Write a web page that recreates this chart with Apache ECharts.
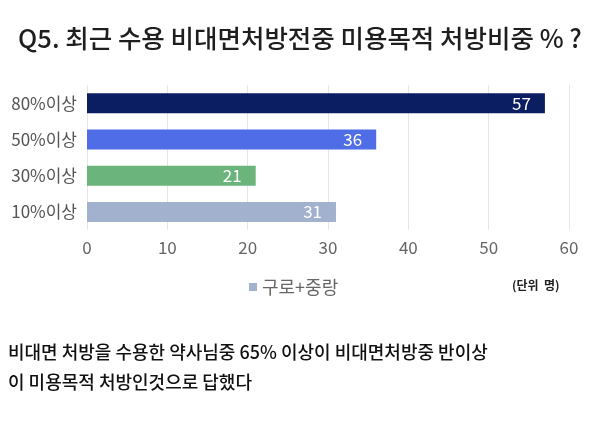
<!DOCTYPE html>
<html>
<head>
<meta charset="utf-8">
<script src="https://cdn.jsdelivr.net/npm/echarts@6/dist/echarts.min.js"></script>
<style>
  html, body { margin: 0; padding: 0; background: #fff; }
  #chart { width: 600px; height: 425px; }
</style>
</head>
<body>
<div id="chart"></div>
<script>
// data
const categories = ['80%이상', '50%이상', '30%이상', '10%이상'];
const values = [57, 36, 21, 31];
const barColors = ['#0b1e62', '#4f6de6', '#6bb57c', '#a2b1cd'];
const seriesName = '구로+중랑';
const xTicks = [0, 10, 20, 30, 40, 50, 60];

const font = '"Noto Sans CJK KR", "Noto Sans", sans-serif';

const chart = echarts.init(document.getElementById('chart'));

const option = {
    animation: false,
    textStyle: { fontFamily: font },
    title: {
        text: 'Q5. 최근 수용 비대면처방전중 미용목적 처방비중 % ?',
        left: 'center',
        top: 21,
        textStyle: { fontSize: 25.5, fontWeight: 500, color: '#1e1e1e', fontFamily: font }
    },
    legend: {
        data: [seriesName],
        left: 244,
        top: 273,
        icon: 'rect',
        itemWidth: 8,
        itemHeight: 8,
        itemGap: 8,
        textStyle: { fontSize: 18, color: '#666', fontFamily: font }
    },
    grid: {
        left: 87,
        right: 31,
        top: 85,
        bottom: 195
    },
    xAxis: {
        type: 'value',
        min: xTicks[0],
        max: xTicks[xTicks.length - 1],
        interval: 10,
        axisLine: { show: false },
        axisTick: { show: false },
        axisLabel: { fontSize: 17, color: '#666', margin: 9, fontFamily: font },
        splitLine: { lineStyle: { color: '#e6e6e6' } }
    },
    yAxis: {
        type: 'category',
        inverse: true,
        data: categories,
        axisLine: { show: false },
        axisTick: { show: false },
        axisLabel: { fontSize: 17, color: '#555', margin: 10, fontFamily: font }
    },
    series: [
        {
            name: seriesName,
            type: 'bar',
            barWidth: 20,
            itemStyle: { color: barColors[3] },
            label: {
                show: true,
                position: 'insideRight',
                distance: 14,
                color: '#fff',
                fontSize: 17,
                fontFamily: font
            },
            data: values.map((v, i) => ({ value: v, itemStyle: { color: barColors[i] } }))
        }
    ],
    graphic: [
        {
            type: 'text',
            left: 512,
            top: 279,
            style: { text: '(단위  명)', font: 'bold 12px ' + font, fill: '#222' }
        },
        {
            type: 'text',
            left: 8,
            top: 337,
            style: {
                text: '비대면 처방을 수용한 약사님중 65% 이상이 비대면처방중 반이상\n이 미용목적 처방인것으로 답했다',
                font: '500 18px ' + font,
                fill: '#111',
                lineHeight: 30
            }
        }
    ]
};

chart.setOption(option);
</script>
</body>
</html>
